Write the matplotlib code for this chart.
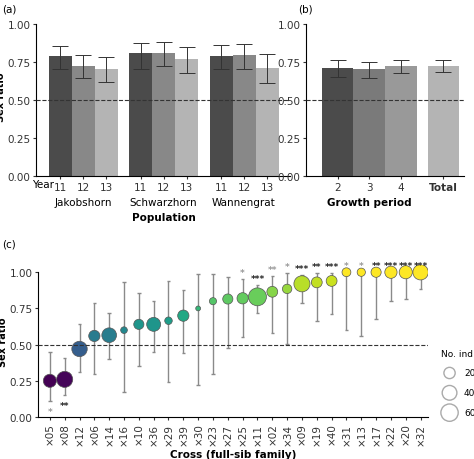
import matplotlib
matplotlib.use('Agg')
import matplotlib.pyplot as plt
import numpy as np

# Panel a
pops = ['Jakobshorn', 'Schwarzhorn', 'Wannengrat']
years = ['11', '12', '13']
a_val = [[.785, .72, .705], [.805, .81, .77], [.79, .795, .71]]
a_lo = [[.705, .64, .62], [.705, .72, .675], [.70, .70, .61]]
a_hi = [[.85, .795, .78], [.875, .88, .845], [.86, .865, .80]]
# Panel b
periods = ['2', '3', '4', 'Total']
b_val = [.71, .70, .72, .72]
b_lo = [.65, .645, .675, .685]
b_hi = [.76, .75, .76, .76]
# Panel c
crosses = ['×05','×08','×12','×06','×14','×16','×10','×36','×29','×39','×30','×23','×27',
           '×25','×11','×02','×34','×09','×19','×40','×31','×13','×17','×22','×20','×32']
c_val = [.25,.26,.47,.56,.565,.60,.64,.64,.665,.70,.75,.80,.815,.82,.83,.865,.885,.92,.93,.94,1,1,1,1,1,1]
c_lo = [.11,.15,.31,.30,.40,.17,.35,.45,.24,.44,.22,.30,.475,.555,.72,.58,.505,.79,.66,.71,.60,.56,.68,.80,.815,.885]
c_hi = [.45,.41,.64,.79,.72,.93,.86,.80,.94,.88,.99,.99,.97,.955,.91,.975,.995,.98,.995,.995,1,1,1,1,1,1]
c_n = [30,50,45,20,40,4,15,35,6,20,1,5,15,20,65,18,12,50,18,18,10,8,15,25,30,45]
c_sig = ['*','**','','','','','','','','','','','','*','***','**','*','***','**','***','*','*','**','***','***','***']
c_sig_grey = [True,False]+[False]*11+[True,False,True,True]+[False]*3+[True,True]+[False]*4

W, H = 474, 460
fig = plt.figure(figsize=(W/100, H/100), dpi=100)
fs = 7.5
cols = ['#4b4b4b', '#888888', '#b4b4b4']

def style(ax):
    for s in ['top', 'right']:
        ax.spines[s].set_visible(False)
    ax.spines['left'].set_bounds(0, 1)
    ax.set_ylim(0, 1.05)
    ax.set_yticks([0, .25, .5, .75, 1])
    ax.set_yticklabels(['0.00', '0.25', '0.50', '0.75', '1.00'])
    ax.tick_params(labelsize=fs, length=2.5, colors='#333333', pad=1.5)
    ax.axhline(0.5, ls='--', color='#333333', lw=0.8, zorder=3)

axa = fig.add_axes([36/W, 1-177/H, 254/W, 160/H])
xs, labs = [], []
for g in range(3):
    for k in range(3):
        x = g*3.5 + k
        v = a_val[g][k]
        axa.bar(x, v, width=1, color=cols[k], zorder=2)
        axa.errorbar(x, v, yerr=[[v-a_lo[g][k]], [a_hi[g][k]-v]], color='#333333', lw=0.7, capsize=6, capthick=0.7, zorder=4)
        xs.append(x); labs.append(years[k])
    axa.text(g*3.5+1, -0.14, pops[g], ha='center', va='top', fontsize=fs)
axa.set_xlim(-1.05, 10.0)
axa.set_xticks(xs)
axa.set_xticklabels(labs)
axa.tick_params(axis='x', length=0)
axa.text(-0.75, -0.022, 'Year', ha='center', va='top', fontsize=fs)
axa.text(4.5, -0.235, 'Population', ha='center', va='top', fontsize=fs, fontweight='bold')
axa.set_ylabel('Sex ratio', fontsize=7, fontweight='bold', labelpad=1)
style(axa)
axa.spines['bottom'].set_bounds(-1.05, 10.0)
fig.text(2/W, 1-12/H, '(a)', fontsize=fs)

axb = fig.add_axes([306/W, 1-177/H, 158/W, 160/H])
bx = [0, 1, 2, 3.35]
bcols = ['#4b4b4b', '#7a7a7a', '#999999', '#b4b4b4']
for i in range(4):
    axb.bar(bx[i], b_val[i], width=1, color=bcols[i], zorder=2)
    axb.errorbar(bx[i], b_val[i], yerr=[[b_val[i]-b_lo[i]], [b_hi[i]-b_val[i]]], color='#333333', lw=0.7, capsize=6, capthick=0.7, zorder=4)
axb.set_xlim(-1.0, 4.0)
axb.set_xticks(bx)
axb.set_xticklabels(periods)
axb.get_xticklabels()[3].set_fontweight('bold')
axb.tick_params(axis='x', length=0)
axb.text(1, -0.14, 'Growth period', ha='center', va='top', fontsize=fs, fontweight='bold')
style(axb)
fig.text(298/W, 1-12/H, '(b)', fontsize=fs)

axc = fig.add_axes([38/W, 1-418/H, 390/W, 152/H])
x = np.arange(len(crosses))
axc.vlines(x, c_lo, c_hi, color='#8a8a8a', lw=1.0, zorder=2)
axc.hlines(c_lo, x-0.12, x+0.12, color='#8a8a8a', lw=1.0, zorder=2)
axc.hlines(c_hi, x-0.12, x+0.12, color='#8a8a8a', lw=1.0, zorder=2)
def dsize(n):
    d = 3 + 1.85*np.sqrt(n)  # diameter in px
    return (d*0.72)**2
cv = np.array(c_val)
colors = plt.cm.viridis((cv - cv.min())/(cv.max() - cv.min()))
axc.scatter(x, c_val, s=[dsize(n) for n in c_n], c=colors, edgecolors='#555555', linewidths=0.5, zorder=3)
for i in range(len(x)):
    if c_sig[i]:
        col = '#999999' if c_sig_grey[i] else '#222222'
        if i < 2:
            axc.text(x[i], c_lo[i]-0.04, c_sig[i], ha='center', va='top', fontsize=6.5, color=col, fontweight='bold')
        else:
            axc.text(x[i], c_hi[i]+0.015, c_sig[i], ha='center', va='bottom', fontsize=6.5, color=col, fontweight='bold')
axc.set_xlim(-0.8, len(crosses)-0.5)
axc.set_xticks(x)
axc.set_xticklabels(crosses, rotation=90)
axc.set_xlabel('Cross (full-sib family)', fontsize=fs, fontweight='bold', labelpad=3)
axc.set_ylabel('Sex ratio', fontsize=7, fontweight='bold', labelpad=1)
style(axc)
axc.spines['bottom'].set_bounds(-0.8, len(crosses)-0.5)
fig.text(2/W, 1-248/H, '(c)', fontsize=fs)

hs = [plt.scatter([], [], s=dsize(n), facecolors='none', edgecolors='#aaaaaa') for n in [20, 40, 60]]
fig.legend(hs, ['20', '40', '60'], title='No. ind.', loc='upper left', bbox_to_anchor=(436/W, 1-345/H),
           frameon=False, fontsize=6.5, title_fontsize=6.5, labelspacing=1.2, handletextpad=0.6, borderpad=0)

fig.savefig('out.png', dpi=100)
